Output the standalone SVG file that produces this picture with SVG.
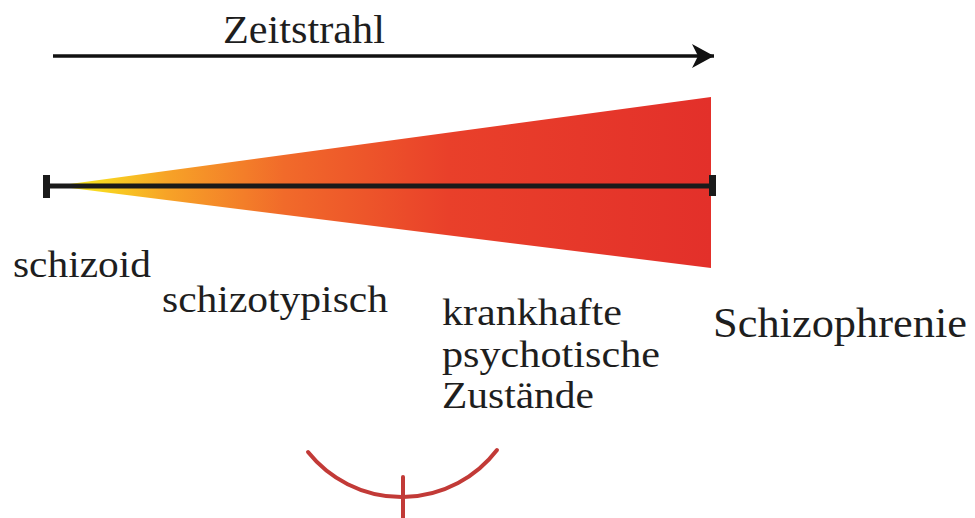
<svg xmlns="http://www.w3.org/2000/svg" width="975" height="518" viewBox="0 0 975 518">
  <style>
    .lbl { fill: #1e1e1e; }
    .axis { stroke: #1a1a1a; stroke-width: 5; fill: none; }
    .cap { fill: #1a1a1a; }
    .red { stroke: #c23a37; stroke-width: 4; fill: none; stroke-linecap: round; }
  </style>
  <defs>
    <linearGradient id="grad" gradientUnits="userSpaceOnUse" x1="55" y1="0" x2="711" y2="0">
      <stop offset="0" stop-color="#f4ea1c"/>
      <stop offset="0.07" stop-color="#f8d620"/>
      <stop offset="0.17" stop-color="#f7a327"/>
      <stop offset="0.35" stop-color="#f16a2a"/>
      <stop offset="0.6" stop-color="#e9402a"/>
      <stop offset="1" stop-color="#e3302a"/>
    </linearGradient>
    <marker id="arrow" markerUnits="userSpaceOnUse" markerWidth="26" markerHeight="26" refX="22" refY="12" orient="auto">
      <path d="M0,0 L22,12 L0,24 L6,12 Z" fill="#111"/>
    </marker>
  </defs>

  <g id="connectors">
    <line id="zeitstrahl-arrow" x1="53" y1="56" x2="714" y2="56" stroke="#111" stroke-width="3.5" marker-end="url(#arrow)"/>
  </g>

  <g font-family="Liberation Serif, Times New Roman, DejaVu Serif, serif">
  <g id="zeitstrahl-label">
    <text class="lbl" x="223" y="43" font-size="40" textLength="162" lengthAdjust="spacingAndGlyphs">Zeitstrahl</text>
  </g>

  <g id="schizoid">
    <text class="lbl" x="13" y="277" font-size="38" textLength="138" lengthAdjust="spacingAndGlyphs">schizoid</text>
  </g>
  <g id="schizotypisch">
    <text class="lbl" x="162" y="312" font-size="38" textLength="226" lengthAdjust="spacingAndGlyphs">schizotypisch</text>
  </g>
  <g id="krankhafte-psychotische-zustaende">
    <text class="lbl" x="442" y="325" font-size="38" textLength="180" lengthAdjust="spacingAndGlyphs">krankhafte</text>
    <text class="lbl" x="442" y="367" font-size="38" textLength="218" lengthAdjust="spacingAndGlyphs">psychotische</text>
    <text class="lbl" x="442" y="408" font-size="38" textLength="152" lengthAdjust="spacingAndGlyphs">Zustände</text>
  </g>
  <g id="schizophrenie">
    <text class="lbl" x="713" y="337" font-size="42" textLength="254" lengthAdjust="spacingAndGlyphs">Schizophrenie</text>
  </g>
  </g>

  <g id="wedge">
    <polygon points="55,186 711,97 711,268" fill="url(#grad)"/>
    <line class="axis" x1="46" y1="186" x2="712" y2="186"/>
    <rect class="cap" x="43" y="175" width="7" height="23"/>
    <rect class="cap" x="709" y="175" width="7" height="21"/>
  </g>

  <g id="red-mark">
    <path class="red" d="M308,452 A120,120 0 0 0 497,450"/>
    <line class="red" x1="403" y1="477" x2="403" y2="518" stroke-linecap="butt"/>
  </g>
</svg>
